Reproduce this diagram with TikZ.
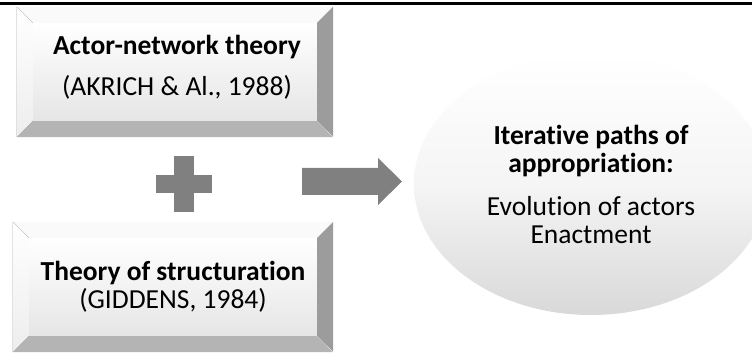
\documentclass[tikz,border=0pt]{standalone}
\usepackage{fontspec}
\setmainfont{Carlito}[Ligatures=NoCommon]
\usetikzlibrary{shapes.geometric}
\definecolor{bevelR}{HTML}{9C9C9C}
\definecolor{bevelB}{HTML}{B4B4B4}
\definecolor{bevelT}{HTML}{FAFAFA}
\definecolor{signgray}{HTML}{808080}

\begin{document}
\begin{tikzpicture}[x=1pt, y=1pt,
    face/.style={rectangle, inner sep=0pt, top color=white, bottom color=gray!20,
        align=center, font=\fontsize{27.5}{28}\selectfont},
    sidebevel/.style={top color=white, bottom color=gray!14}]
    \useasboundingbox (0,0) rectangle (752,353);
    \fill[white] (0,0) rectangle (752,353);
    \draw[line width=3pt] (0,349) -- (752,349);

    \node[face, minimum width=284pt, minimum height=98pt] (ant) at (175,281) {};
    \node[align=center, font=\fontsize{27.5}{28}\selectfont] (antlabel) at (177,286)
        {\textbf{Actor-network theory}\\[13pt](AKRICH \& Al., 1988)};
    \fill[bevelT] (ant.north west) -- ++(-16,16) -- ++(316,0) -- (ant.north east) -- cycle;
    \fill[sidebevel] (ant.north west) -- ++(-16,16) -- ++(0,-130) -- (ant.south west) -- cycle;
    \fill[bevelR] (ant.north east) -- ++(16,16) -- ++(0,-130) -- (ant.south east) -- cycle;
    \fill[bevelB] (ant.south west) -- ++(-16,-16) -- ++(316,0) -- (ant.south east) -- cycle;

    \node[face, minimum width=288pt, minimum height=98pt] (struct) at (173,66)
        {\textbf{Theory of structuration}\\(GIDDENS, 1984)};
    \fill[bevelT] (struct.north west) -- ++(-16,16) -- ++(320,0) -- (struct.north east) -- cycle;
    \fill[sidebevel] (struct.north west) -- ++(-16,16) -- ++(0,-130) -- (struct.south west) -- cycle;
    \fill[bevelR] (struct.north east) -- ++(16,16) -- ++(0,-130) -- (struct.south east) -- cycle;
    \fill[bevelB] (struct.south west) -- ++(-16,-16) -- ++(320,0) -- (struct.south east) -- cycle;

    \coordinate (plus) at (184,169);
    \fill[signgray] ([shift={(-10,-28)}]plus) rectangle ([shift={(10,28)}]plus);
    \fill[signgray] ([shift={(-28,-9)}]plus) rectangle ([shift={(28,9)}]plus);

    \coordinate (arr) at (302,158);
    \fill[signgray] (arr) -- ++(76,0) -- ++(0,-10) -- ++(24,23.5) -- ++(-24,23.5)
        -- ++(0,-10) -- ++(-76,0) -- cycle;

    \node[ellipse, minimum width=354pt, minimum height=262pt, inner sep=0pt,
        top color=white, bottom color=gray!30, middle color=white!96!black,
        align=center, font=\fontsize{27.5}{28}\selectfont] (paths) at (591,169)
        {\textbf{Iterative paths of}\\\textbf{appropriation:}\\[15pt]Evolution of actors\\Enactment};
\end{tikzpicture}
\end{document}
